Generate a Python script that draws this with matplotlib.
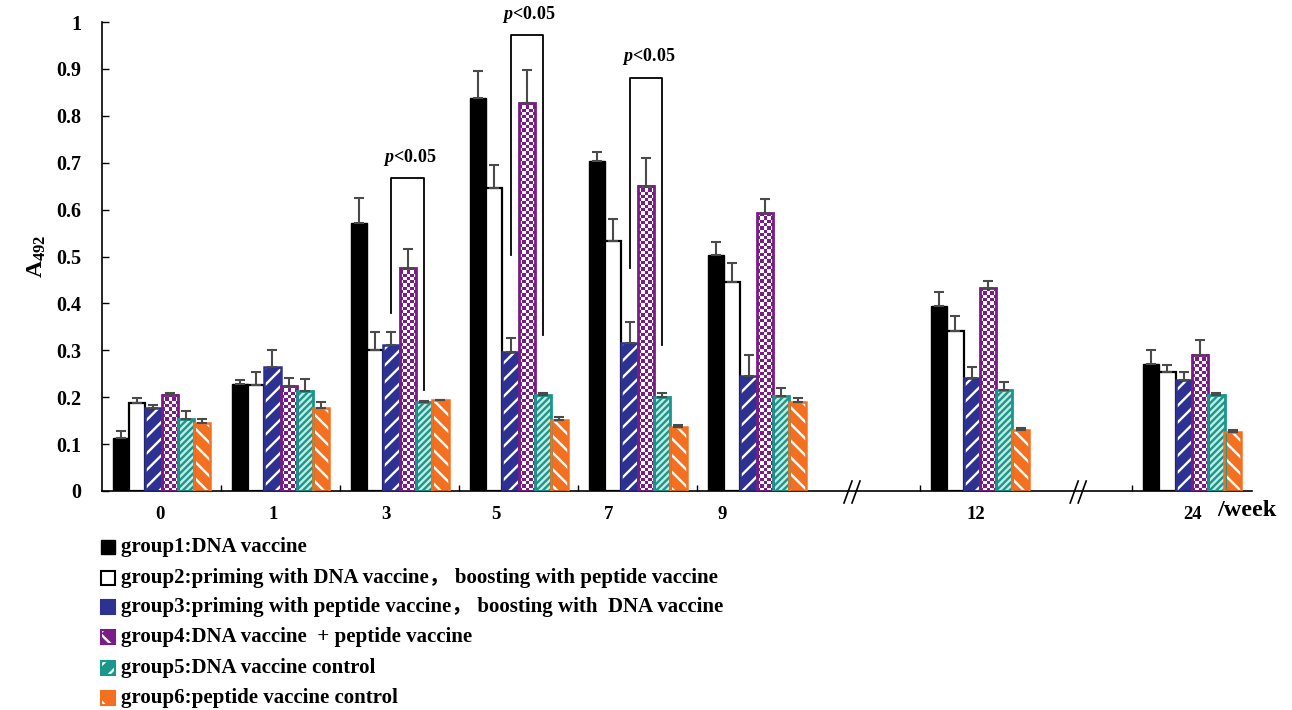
import numpy as np
import matplotlib
matplotlib.use('Agg')
import matplotlib.pyplot as plt
from matplotlib.patches import Rectangle

plt.rcParams['font.family'] = ['Liberation Serif', 'Noto Sans CJK SC']
plt.rcParams['font.weight'] = 'bold'
plt.rcParams['mathtext.fontset'] = 'custom'
plt.rcParams['mathtext.it'] = 'Liberation Serif:italic:bold'
plt.rcParams['mathtext.bf'] = 'Liberation Serif:bold'
plt.rcParams['mathtext.rm'] = 'Liberation Serif:bold'
plt.rcParams['hatch.linewidth'] = 1.7

# Wochen und Messwerte (A492), Mittelwert und oberes Fehlerende
weeks = ['0', '1', '3', '5', '7', '9', '12', '24']

groups = ['group1:DNA vaccine',
          'group2:priming with DNA vaccine\uff0c boosting with peptide vaccine',
          'group3:priming with peptide vaccine\uff0c boosting with  DNA vaccine',
          'group4:DNA vaccine  + peptide vaccine',
          'group5:DNA vaccine control',
          'group6:peptide vaccine control']

g1 = [0.114, 0.228, 0.572, 0.837, 0.704, 0.503, 0.394, 0.271]
g2 = [0.187, 0.227, 0.301, 0.645, 0.533, 0.445, 0.342, 0.254]
g3 = [0.176, 0.265, 0.311, 0.296, 0.315, 0.246, 0.242, 0.237]
g4 = [0.205, 0.224, 0.476, 0.828, 0.651, 0.592, 0.432, 0.291]
g5 = [0.153, 0.214, 0.190, 0.204, 0.201, 0.203, 0.215, 0.205]
g6 = [0.146, 0.176, 0.193, 0.152, 0.136, 0.190, 0.129, 0.125]

g1_top = [0.128, 0.237, 0.625, 0.895, 0.723, 0.530, 0.425, 0.301]
g2_top = [0.198, 0.254, 0.338, 0.695, 0.581, 0.487, 0.374, 0.269]
g3_top = [0.183, 0.300, 0.338, 0.327, 0.361, 0.290, 0.265, 0.253]
g4_top = [0.210, 0.242, 0.517, 0.897, 0.709, 0.623, 0.448, 0.323]
g5_top = [0.171, 0.238, 0.192, 0.210, 0.210, 0.220, 0.232, 0.208]
g6_top = [0.153, 0.190, 0.195, 0.158, 0.141, 0.198, 0.134, 0.129]

# Signifikanz-Klammern: Woche, linkes Ende, oben, rechtes Ende
sig_weeks = ['3', '5', '7']
sig_left = [0.380, 0.503, 0.476]
sig_top = [0.667, 0.972, 0.881]
sig_right = [0.215, 0.333, 0.311]

values = [g1, g2, g3, g4, g5, g6]
tops = [g1_top, g2_top, g3_top, g4_top, g5_top, g6_top]

# Layout (x-Achse mit Unterbrechung bei 9|12 und 12|24)
centers = np.array([0.5, 1.5, 2.5, 3.5, 4.5, 5.5, 7.374, 9.155])
label_x = [0.487, 1.437, 2.387, 3.311, 4.252, 5.21, 7.336, 9.16]
slot_edges = [1, 2, 3, 4, 5, 6.874, 8.655]
breaks = [6.30, 8.20]
w = 0.137

blue = '#2d3192'
purple = '#7a1c86'
teal = '#1b968a'
orange = '#f37021'

px_x = 1.0 / 119.0
px_y = 1.0 / 469.0


def checker(ax, x0, x1, y0, y1, cell=3.3, zorder=2):
    # Schachbrett fuer group4
    nx = max(int(round((x1 - x0) / px_x / cell)), 1)
    ny = max(int(round((y1 - y0) / px_y / cell)), 1)
    ii, jj = np.indices((ny, nx))
    mask = (ii + jj) % 2 == 0
    img = np.ones((ny, nx, 3))
    img[mask] = matplotlib.colors.to_rgb(purple)
    ax.imshow(img, extent=(x0, x1, y0, y1), aspect='auto', origin='lower',
              interpolation='nearest', zorder=zorder)


def draw_bar(ax, k, x, h):
    x0 = x - w / 2
    if k == 0:
        ax.bar(x, h, w, color='black', edgecolor='black', lw=1, zorder=2)
    elif k == 1:
        ax.bar(x, h, w, color='white', edgecolor='black', lw=1.6, zorder=2)
    elif k == 2:
        ax.bar(x, h, w, color=blue, edgecolor='white', hatch='//', lw=0, zorder=2)
        ax.bar(x, h, w, fill=False, edgecolor=blue, lw=1.8, zorder=3)
    elif k == 3:
        checker(ax, x0, x0 + w, 0, h)
        ax.bar(x, h, w, fill=False, edgecolor=purple, lw=2.0, zorder=3)
    elif k == 4:
        ax.bar(x, h, w, color='#c4ebe6', edgecolor=teal, hatch='/////', lw=0, zorder=2)
        ax.bar(x, h, w, fill=False, edgecolor=teal, lw=2.0, zorder=3)
    else:
        ax.bar(x, h, w, color=orange, edgecolor='white', hatch='\\\\', lw=0, zorder=2)
        ax.bar(x, h, w, fill=False, edgecolor=orange, lw=1.8, zorder=3)


fig = plt.figure(figsize=(12.92, 7.10), dpi=100)
ax = fig.add_axes([102 / 1292, 1 - 491 / 710, 1150 / 1292, 469 / 710])

for k in range(6):
    xs = centers + (k - 2.5) * w
    for i in range(len(weeks)):
        draw_bar(ax, k, xs[i], values[k][i])
    err = np.array(tops[k]) - np.array(values[k])
    ax.errorbar(xs, values[k], yerr=[np.zeros(len(err)), err], fmt='none',
                ecolor='#4a4a4a', elinewidth=1.5, capsize=3.5, capthick=1.5, zorder=4)

# Klammern mit p<0.05
for j, wk in enumerate(sig_weeks):
    i = weeks.index(wk)
    xl = centers[i] + (2 - 2.5) * w
    xr = centers[i] + (4 - 2.5) * w
    ax.plot([xl, xl, xr, xr], [sig_left[j], sig_top[j], sig_top[j], sig_right[j]],
            color='black', lw=1.3, zorder=5)
    ax.text((xl + xr) / 2 + 0.02, sig_top[j] + 0.022, r'$p$<0.05', ha='center',
            va='bottom', fontsize=13, fontweight='bold')

# Achsenunterbrechung //
for b in breaks:
    for d in [-4, 4]:
        ax.plot([b + (d - 4) * px_x, b + (d + 4) * px_x], [-12 * px_y, 10 * px_y],
                color='black', lw=1.2, clip_on=False, zorder=6)

ax.set_xlim(0, 9.66)
ax.set_ylim(0, 1)
ax.spines['top'].set_visible(False)
ax.spines['right'].set_visible(False)
ax.spines['left'].set_linewidth(1.2)
ax.spines['bottom'].set_linewidth(1.2)

ax.set_yticks(np.arange(0, 1.01, 0.1))
ax.set_yticklabels(['0', '0.1', '0.2', '0.3', '0.4', '0.5', '0.6', '0.7', '0.8', '0.9', '1'])
ax.tick_params(axis='y', direction='in', length=5, width=1, labelsize=14.5, pad=15)

ax.set_xticks(label_x)
ax.set_xticklabels(weeks)
ax.set_xticks(slot_edges, minor=True)
ax.tick_params(axis='x', which='major', length=0, labelsize=13.5, pad=11)
ax.tick_params(axis='x', which='minor', direction='in', length=4, width=1)
ax.text(9.37, -20 * px_y, '/week', ha='left', va='center', fontsize=17.5, fontweight='bold')

ax.set_ylabel(r'A$_{\mathbf{492}}$', fontsize=17, fontweight='bold', labelpad=6)

# Legende unten links
leg_y = [547, 578, 607, 637, 668, 698]
for k in range(6):
    yc = 1 - leg_y[k] / 710
    x0 = 101 / 1292
    wd = 14 / 1292
    ht = 14 / 710
    box = (x0, yc - ht / 2)
    if k == 0:
        fig.patches.append(Rectangle(box, wd, ht, transform=fig.transFigure,
                                     facecolor='black', edgecolor='black', lw=1))
    elif k == 1:
        fig.patches.append(Rectangle(box, wd, ht, transform=fig.transFigure,
                                     facecolor='white', edgecolor='black', lw=1.5))
    elif k == 2:
        fig.patches.append(Rectangle(box, wd, ht, transform=fig.transFigure,
                                     facecolor=blue, edgecolor='white', hatch='/', lw=0))
        fig.patches.append(Rectangle(box, wd, ht, transform=fig.transFigure,
                                     fill=False, edgecolor=blue, lw=1.5))
    elif k == 3:
        fig.patches.append(Rectangle(box, wd, ht, transform=fig.transFigure,
                                     facecolor=purple, edgecolor='white', hatch='x', lw=0))
        fig.patches.append(Rectangle(box, wd, ht, transform=fig.transFigure,
                                     fill=False, edgecolor=purple, lw=1.5))
    elif k == 4:
        fig.patches.append(Rectangle(box, wd, ht, transform=fig.transFigure,
                                     facecolor=teal, edgecolor='white', hatch='//', lw=0))
        fig.patches.append(Rectangle(box, wd, ht, transform=fig.transFigure,
                                     fill=False, edgecolor=teal, lw=1.5))
    else:
        fig.patches.append(Rectangle(box, wd, ht, transform=fig.transFigure,
                                     facecolor=orange, edgecolor='white', hatch='\\', lw=0))
        fig.patches.append(Rectangle(box, wd, ht, transform=fig.transFigure,
                                     fill=False, edgecolor=orange, lw=1.5))
    fig.text(121 / 1292, yc, groups[k], ha='left', va='center', fontsize=15,
             fontweight='bold')

fig.savefig('out.png', dpi=100)
